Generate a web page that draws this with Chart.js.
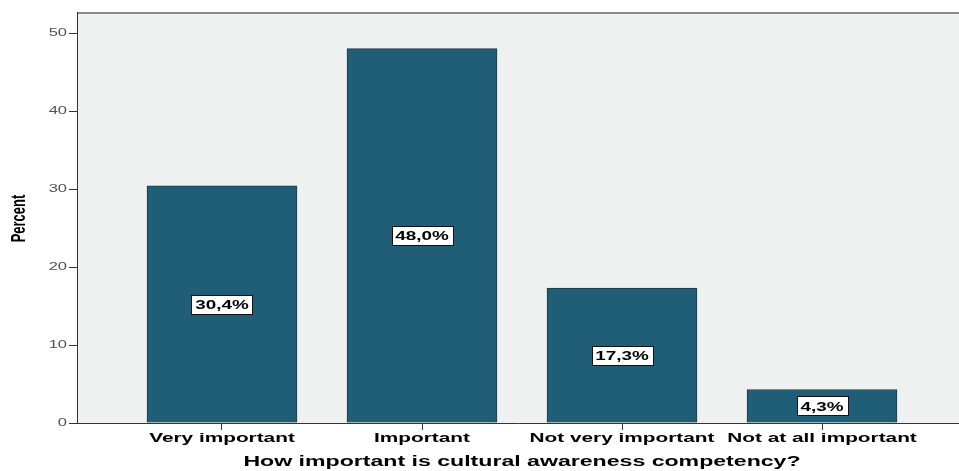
<!DOCTYPE html>
<html>
<head>
<meta charset="utf-8">
<script src="https://cdn.jsdelivr.net/npm/chart.js@4.4.1/dist/chart.umd.min.js"></script>
<style>
  html, body { margin: 0; padding: 0; background: #ffffff; }
  #wrap { width: 959px; height: 471px; position: relative; }
</style>
</head>
<body>
<div id="wrap"><canvas id="c" width="959" height="471"></canvas></div>
<script>
const categories = ["Very important", "Important", "Not very important", "Not at all important"];
const percentValues = [30.4, 48.0, 17.3, 4.3];
const valueLabels = ["30,4%", "48,0%", "17,3%", "4,3%"];
const yTicks = [0, 10, 20, 30, 40, 50];
const xTitle = "How important is cultural awareness competency?";
const yTitle = "Percent";

const BAR_COLOR = "#1f5e76";

// Text in the reference is horizontally widened; draw glyphs stretched around their anchor.
function stretchedFill(ctx, sx, dx) {
  const proto = Object.getPrototypeOf(ctx).fillText;
  ctx.fillText = function (t, x, y) {
    this.save();
    this.translate(x + (dx || 0), y);
    this.scale(sx, 1);
    proto.call(this, t, 0, 0);
    this.restore();
  };
  return () => { delete ctx.fillText; };
}
function withStretch(fn, sx, dx) {
  return function () {
    const undo = stretchedFill(this.ctx, sx, dx);
    try { return fn.apply(this, arguments); } finally { undo(); }
  };
}

const plotBg = {
  id: "plotBg",
  beforeDraw(chart) {
    const { ctx, chartArea: a } = chart;
    const xs = chart.scales.x, ys = chart.scales.y;
    if (!xs._stretched) {
      xs.drawLabels = withStretch(xs.drawLabels, 1.6, 0);
      xs.drawTitle = withStretch(xs.drawTitle, 1.65, 4);
      xs._stretched = true;
    }
    if (!ys._stretched) {
      ys.drawLabels = withStretch(ys.drawLabels, 1.65, 0);
      ys._stretched = true;
    }
    ctx.save();
    ctx.fillStyle = "#eff0f0";
    ctx.fillRect(a.left, a.top, a.right - a.left, a.bottom - a.top);
    ctx.strokeStyle = "#8a8a8a";
    ctx.lineWidth = 2;
    ctx.beginPath();
    ctx.moveTo(a.left, a.top + 1);
    ctx.lineTo(a.right, a.top + 1);
    ctx.stroke();
    ctx.restore();
  },
  afterDraw(chart) {
    const { ctx, chartArea: a } = chart;
    const meta = chart.getDatasetMeta(0);
    const SX = 1.45;
    ctx.save();
    ctx.font = "bold 13px 'Liberation Sans'";
    ctx.textAlign = "center";
    ctx.textBaseline = "middle";
    meta.data.forEach((bar, i) => {
      const txt = valueLabels[i];
      const cx = bar.x;
      const cy = (bar.y + bar.base) / 2;
      const w = Math.round(ctx.measureText(txt).width * SX + 8);
      const h = 19;
      const x0 = Math.round(cx - w / 2) + 0.5, y0 = Math.round(cy - h / 2) + 0.5;
      ctx.fillStyle = "#ffffff";
      ctx.fillRect(x0, y0, w, h);
      ctx.strokeStyle = "#111111";
      ctx.lineWidth = 1;
      ctx.strokeRect(x0, y0, w, h);
      ctx.fillStyle = "#000000";
      ctx.save();
      ctx.translate(cx, cy + 1);
      ctx.scale(SX, 1);
      ctx.fillText(txt, 0, 0);
      ctx.restore();
    });
    ctx.restore();

    // rotated y-axis title (glyphs widened across the text direction like the reference)
    ctx.save();
    ctx.translate(19, (a.top + a.bottom) / 2 + 1);
    ctx.rotate(-Math.PI / 2);
    ctx.scale(1, 1.6);
    ctx.font = "bold 13px 'Liberation Sans'";
    ctx.fillStyle = "#000000";
    ctx.textAlign = "center";
    ctx.textBaseline = "middle";
    ctx.fillText(yTitle, 0, 0);
    ctx.restore();
  }
};

new Chart(document.getElementById("c"), {
  type: "bar",
  data: {
    datasets: [{
      data: categories.map((c, i) => ({ x: i, y: percentValues[i] })),
      backgroundColor: BAR_COLOR,
      borderColor: "#1b3a48",
      borderWidth: 1,
      barThickness: 150
    }]
  },
  options: {
    responsive: false,
    animation: false,
    devicePixelRatio: 1,
    layout: { padding: { left: 0, right: 0, top: 12, bottom: 0 } },
    plugins: { legend: { display: false }, tooltip: { enabled: false } },
    scales: {
      x: {
        type: "linear",
        offset: false,
        min: -0.725,
        max: 3.685,
        afterBuildTicks(scale) {
          scale.ticks = categories.map((c, i) => ({ value: i }));
        },
        afterFit(scale) { scale.height = 48; },
        ticks: {
          stepSize: 1,
          callback: (v) => categories[v] !== undefined ? categories[v] : "",
          color: "#000000",
          font: { family: "'Liberation Sans'", size: 13, weight: "bold" },
          padding: 1,
          maxRotation: 0,
          autoSkip: false
        },
        grid: { offset: false, drawOnChartArea: false, drawTicks: true, tickLength: 7, color: "#333333", lineWidth: 1 },
        border: { display: true, color: "#333333", width: 1 },
        title: {
          display: true,
          text: xTitle,
          color: "#000000",
          font: { family: "'Liberation Sans'", size: 14, weight: "bold" },
          padding: { top: 0, bottom: 0 }
        }
      },
      y: {
        min: 0,
        max: 52.7,
        afterBuildTicks(scale) {
          scale.ticks = yTicks.map(v => ({ value: v }));
        },
        afterFit(scale) { scale.width = 77; },
        ticks: {
          stepSize: 10,
          color: "#505050",
          font: { family: "'Liberation Sans'", size: 10 },
          padding: 2
        },
        grid: { drawOnChartArea: false, drawTicks: true, tickLength: 8, color: "#333333", lineWidth: 1 },
        border: { display: true, color: "#333333", width: 1 },
        title: { display: false, text: yTitle }
      }
    }
  },
  plugins: [plotBg]
});
</script>
</body>
</html>
